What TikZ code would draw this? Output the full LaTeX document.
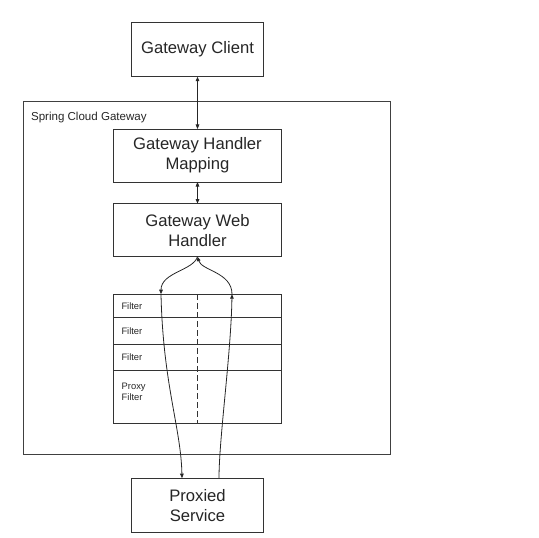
\documentclass[tikz,border=0pt]{standalone}
\usepackage{fontspec}
\setmainfont{Liberation Sans}
\usetikzlibrary{positioning,arrows.meta}

\begin{document}
\begin{tikzpicture}[x=1bp,y=1bp,text=black!85,
  box/.style={draw=black!80,line width=0.9bp,minimum width=131.6bp,minimum height=54bp,align=center,inner sep=2pt,outer sep=0pt,font=\fontsize{16.7}{20}\selectfont},
  wide/.style={box,minimum width=168.4bp,minimum height=53bp},
  row/.style={draw=black!80,line width=0.9bp,minimum width=168.4bp,text width=152bp,align=left,inner sep=0pt,outer sep=0pt,font=\fontsize{9.4}{11}\selectfont},
  arr/.style={-{Triangle[length=4.5bp,width=3.6bp]},line width=0.8bp,draw=black!85},
  dbl/.style={{Triangle[length=4.5bp,width=3.6bp]}-{Triangle[length=4.5bp,width=3.6bp]},line width=0.8bp,draw=black!85}]
\useasboundingbox (0,0) rectangle (539,-538);
\node[draw=black!75,line width=0.9bp,minimum width=367.4bp,minimum height=353bp] (scg) at (207,-277.5) {};
\node[font=\fontsize{11.6}{13}\selectfont,anchor=base west,inner sep=0pt] (scglbl) at ([shift={(8,-20)}]scg.north west) {Spring Cloud Gateway};
\node[box] (client) at (197.5,-49.7) {Gateway Client};
\node[wide,below=52.3bp of client] (map) {Gateway Handler\\Mapping};
\node[wide,below=21.6bp of map] (web) {Gateway Web\\Handler};
\node[row,minimum height=23bp,below=37.6bp of web] (f1) {Filter};
\node[row,minimum height=27bp,below=0bp of f1] (f2) {Filter};
\node[row,minimum height=26bp,below=0bp of f2] (f3) {Filter};
\node[row,minimum height=53.7bp,below=0bp of f3] (prx) {};
\node[font=\fontsize{9.4}{11}\selectfont,align=left,anchor=north west,inner sep=0pt] (prxlbl) at ([shift={(8.2,-12.3)}]prx.north west) {Proxy\\Filter};
\node[box,below=54.3bp of prx] (svc) {Proxied\\Service};
\coordinate (inL) at ([xshift=-36.5bp]f1.north);
\coordinate (outR) at ([xshift=34.5bp]f1.north);
\coordinate (svcL) at ([xshift=-15.5bp]svc.north);
\coordinate (svcR) at ([xshift=21.5bp]svc.north);
\draw[dbl] (client) -- (map);
\draw[dbl] (map) -- (web);
\draw[draw=black!80,line width=0.8bp,dash pattern=on 6bp off 3bp] (f1.north) -- (prx.south);
% request and response through the filters
\draw[arr] (web.south) .. controls +(-4,-14) and +(0,22) .. (inL);
\draw[arr] (inL) .. controls +(2,-90) and +(-1,50) .. (svcL);
\draw[arr] (svcR) .. controls +(0,40) and +(-1,-60) .. (outR);
\draw[arr] (outR) .. controls +(0,22) and +(4,-14) .. (web.south);
\end{tikzpicture}
\end{document}
